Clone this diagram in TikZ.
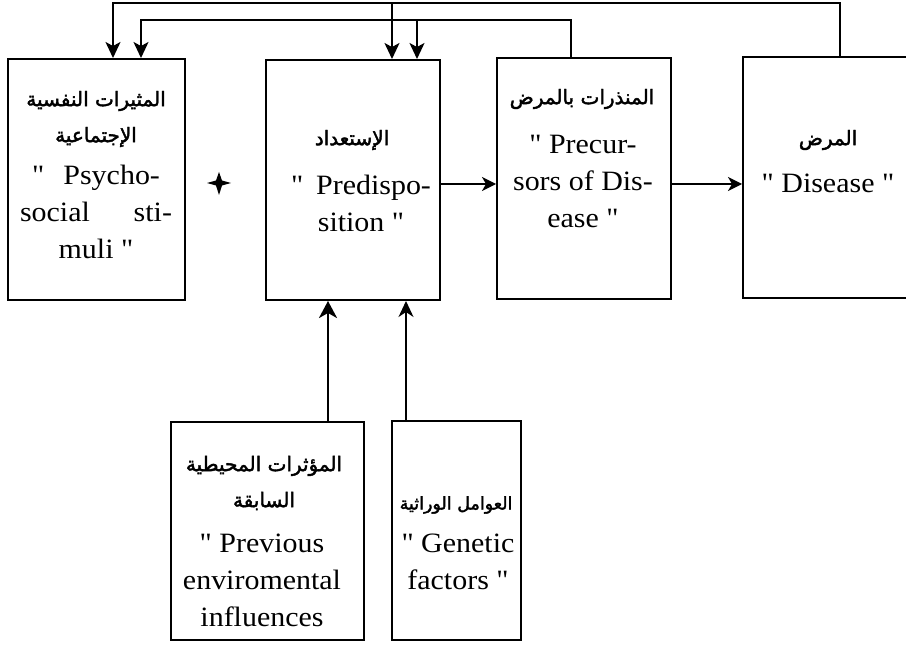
\documentclass[tikz,border=0pt]{standalone}
\usepackage{fontspec}
\setmainfont{Liberation Serif}
\newfontfamily\enfont[FakeStretch=1.07]{Liberation Serif}
\newfontfamily\arabicfont[Script=Arabic,FakeBold=2]{DejaVu Sans}
\TeXXeTstate=1
\usetikzlibrary{arrows.meta}
\newcommand{\arline}[1]{\beginR #1\endR}
\begin{document}
\begin{tikzpicture}[x=1pt,y=-1pt,
  box/.style={draw, line width=2pt, inner sep=0pt, anchor=north west},
  en/.style={align=center, inner sep=0pt, font=\enfont\fontsize{28}{37}\selectfont},
  arb/.style={align=center, inner sep=0pt, font=\arabicfont\fontsize{20}{36}\selectfont},
  arbs/.style={arb, font=\arabicfont\fontsize{17.5}{36}\selectfont},
  link/.style={line width=1.8pt, line join=miter},
  conn/.style={link, -{Stealth[length=16pt,width=15pt,inset=4pt]}},
  hconn/.style={line width=1.4pt, -{Stealth[length=14pt,width=14pt,inset=4pt]}},
  upthick/.style={line width=2.8pt, -{Stealth[length=17pt,width=18pt,inset=5pt]}},
  upthin/.style={line width=1.4pt, -{Stealth[length=16pt,width=15pt,inset=5pt]}},
]
\useasboundingbox (0,0) rectangle (906,658);

% boxes
\node[box, minimum width=177pt, minimum height=241pt] (b1) at (7,58) {};
\node[box, minimum width=174pt, minimum height=240pt] (b2) at (265,59) {};
\node[box, minimum width=174pt, minimum height=241pt] (b3) at (496,57) {};
\node[box, minimum width=180pt, minimum height=241pt] (b4) at (742,56) {};
\node[box, minimum width=193pt, minimum height=218pt] (b5) at (170,421) {};
\node[box, minimum width=129pt, minimum height=219pt] (b6) at (391,420) {};

% texts
\node[arb] (t1a) at (96,119) {\arline{المثيرات النفسية}\\\arline{الإجتماعية}};
\node[en] (t1e) at (96,212) {\makebox[128pt][s]{" Psycho-}\\\makebox[152pt][s]{social sti-}\\muli "};

\node[arb] (t2a) at (352,140) {\arline{الإستعداد}};
\node[en] (t2e) at (361,203) {\makebox[140pt][s]{" Predispo-}\\sition "};

\node[arb] (t3a) at (582,99) {\arline{المنذرات بالمرض}};
\node[en] (t3e) at (583,181) {" Precur-\\sors of Dis-\\ease "};

\node[arb] (t4a) at (828,140) {\arline{المرض}};
\node[en] (t4e) at (828,183) {" Disease "};

\node[arb] (t5a) at (264,483) {\arline{المؤثرات المحيطية}\\\arline{السابقة}};
\node[en] (t5e) at (262,580) {" Previous\\enviromental\\influences};

\node[arbs] (t6a) at (456,505) {\arline{العوامل الوراثية}};
\node[en] (t6e) at (458,562) {" Genetic\\factors "};

% top connectors
\coordinate (o1) at (113,3);
\coordinate (o2) at (392,3);
\coordinate (o4) at (840,3);
\coordinate (i1) at (141,20);
\coordinate (i2) at (417,20);
\coordinate (i3) at (571,20);
\draw[conn] (b4.north -| o4) -- (o4) -- (o1) -- (b1.north -| o1);
\draw[conn] (o2) -- (b2.north -| o2);
\draw[conn] (b3.north -| i3) -- (i3) -- (i1) -- (b1.north -| i1);
\draw[conn] (i2) -- (b2.north -| i2);

% horizontal connectors
\coordinate (h) at (0,184);
\draw[hconn] (b2.east |- h) -- (b3.west |- h);
\draw[hconn] (b3.east |- h) -- (b4.west |- h);

% upward connectors
\coordinate (v5) at (328,0);
\coordinate (v6) at (406,0);
\draw[upthick] (b5.north -| v5) -- (b2.south -| v5);
\draw[upthin] (b6.north -| v6) -- (b2.south -| v6);

% plus sign
\fill (207,183) -- (216,180.5) -- (219,172) -- (222,180.5) -- (231,183)
  -- (222,185.5) -- (219,195) -- (216,185.5) -- cycle;
\end{tikzpicture}
\end{document}
